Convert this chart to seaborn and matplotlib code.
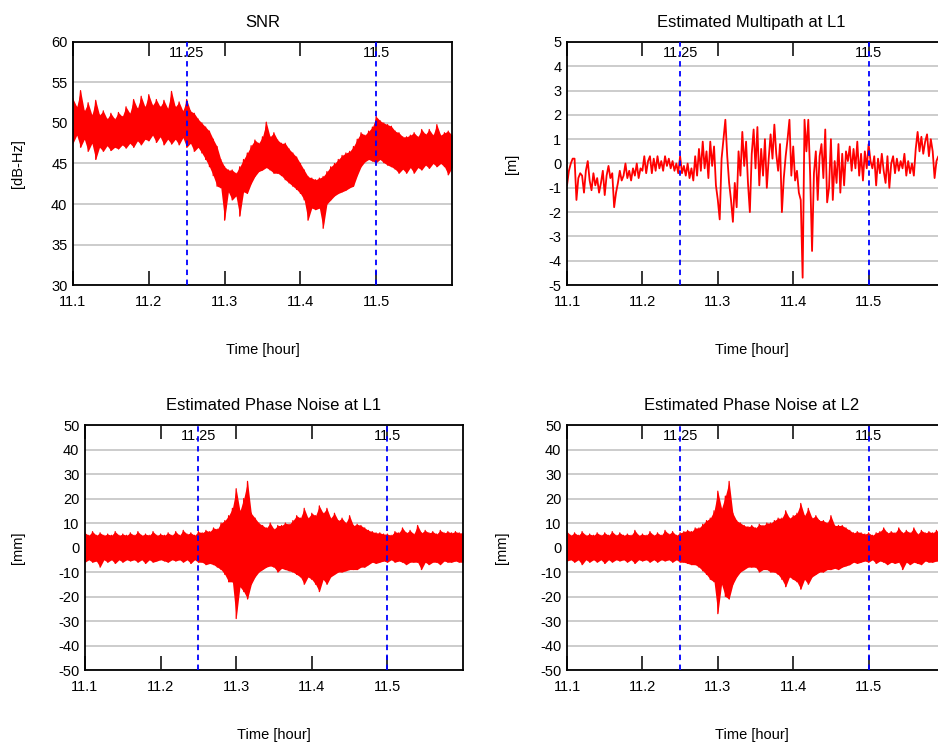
import numpy as np
import matplotlib
matplotlib.use("Agg")
import matplotlib.pyplot as plt
import seaborn as sns

sns.set_theme(style="white")
plt.rcParams["font.family"] = ["Liberation Sans", "DejaVu Sans"]
plt.rcParams["axes.unicode_minus"] = False
plt.rcParams.update({"text.color": "black", "axes.labelcolor": "black",
                     "xtick.color": "black", "ytick.color": "black",
                     "axes.edgecolor": "black"})

# time axis: first sample [hour] and sample spacing
t0 = 11.1
dt_band = 0.005    # envelope samples (SNR, phase noise)
dt_mp = 0.0025     # multipath samples

# SNR [dB-Hz]: upper / lower edge of the noisy band
snr_hi = [53.0, 52.0, 54.0, 51.5, 52.5, 51.0, 52.8, 51.0, 51.5, 50.5,
          51.2, 50.5, 51.3, 50.8, 52.0, 51.2, 52.9, 51.8, 53.3, 52.0,
          53.5, 52.2, 52.9, 52.0, 52.8, 51.8, 53.9, 52.0, 52.6, 51.5,
          52.9, 51.5, 51.2, 50.5, 50.0, 49.5, 49.0, 48.0, 47.1, 45.5,
          44.6, 44.2, 44.2, 43.8, 44.6, 45.5, 46.3, 47.2, 47.9, 47.5,
          48.3, 50.1, 48.3, 48.8, 47.9, 47.5, 47.5, 46.8, 46.3, 45.8,
          45.0, 44.2, 43.4, 43.2, 43.0, 43.2, 43.4, 44.0, 44.6, 45.0,
          45.5, 46.0, 46.3, 46.5, 47.1, 48.0, 48.8, 48.5, 49.0, 49.5,
          50.8, 50.3, 50.0, 49.8, 49.6, 49.0, 48.8, 48.3, 48.3, 48.5,
          48.8, 48.3, 49.2, 48.6, 49.2, 48.5, 49.8, 48.5, 48.8, 49.0,
          48.5]
snr_lo = [47.5, 48.5, 47.0, 48.0, 46.5, 47.5, 45.5, 47.0, 46.5, 47.2,
          46.6, 47.0, 46.8, 47.3, 46.9, 47.5, 47.0, 47.8, 47.3, 48.0,
          47.8, 48.5, 47.6, 48.3, 47.3, 48.0, 47.4, 48.0, 47.3, 48.2,
          47.0, 47.5, 46.5, 47.0, 46.3, 45.5, 44.6, 43.5, 42.2, 42.0,
          38.0, 41.5, 40.5, 41.0, 38.5, 41.5, 41.3, 42.5, 43.4, 44.0,
          44.2, 44.5, 44.2, 43.8, 43.8, 43.5, 43.0, 42.6, 42.2, 41.8,
          41.3, 40.5, 38.0, 39.5, 39.3, 39.5, 37.0, 40.0, 40.5, 41.0,
          41.3, 41.5, 41.7, 42.0, 42.2, 43.5, 44.6, 45.2, 45.5, 45.3,
          45.1, 45.5, 45.1, 44.8, 44.6, 44.3, 43.8, 44.3, 43.8, 44.5,
          43.8, 44.5, 44.2, 44.8, 44.4, 45.0, 44.6, 45.0, 44.6, 43.6,
          44.5]

# Estimated multipath at L1 [m]
mp = [-0.9, -0.3, 0.0, 0.2, 0.2, -1.5, -0.6, -0.4, -0.5, -1.2, -0.3, 0.1,
      -0.7, -1.1, -0.4, -0.9, -0.6, -1.2, -0.8, -0.3, -1.3, -0.5, -0.1, -0.6,
      -0.4, -1.8, -1.2, -0.8, -0.3, -0.7, -0.5, 0.0, -0.6, -0.3, -0.7, -0.2,
      -0.5, 0.0, -0.6, -0.2, -0.3, 0.3, -0.4, 0.1, 0.3, -0.4, 0.2, -0.3,
      0.3, -0.2, 0.1, -0.3, 0.3, -0.1, 0.2, -0.2, 0.1, -0.3, 0.0, -0.4,
      0.3, -0.4, -0.1, -0.5, 0.0, -0.6, -0.2, -0.7, 0.3, -0.5, 0.6, -0.3,
      0.9, -0.2, 0.5, -0.6, 0.9, -0.1, 0.7, -0.9, -1.5, -2.3, 0.2, 1.0,
      1.8, 0.3, -0.8, -1.5, -2.4, -0.8, -1.8, 0.5, -0.5, 1.3, -0.1, 0.9,
      -0.8, -2.0, 0.4, 1.4, -0.2, 1.5, -0.9, 0.6, -0.5, 1.0, -1.0, 0.2,
      1.2, 0.2, 1.6, 0.4, -0.3, 0.8, -2.0, -0.6, 0.3, 1.0, 1.8, -0.5,
      0.7, -0.7, -0.3, -1.2, -1.5, -4.7, 1.8, 0.5, 1.8, -0.5, -3.6, -0.4,
      0.5, -1.5, 0.3, 0.8, -0.6, 1.4, -1.6, -1.0, 1.0, -1.5, 0.1, -0.8,
      0.8, -1.2, 0.4, -0.9, 0.5, 0.1, 0.7, -0.3, 0.6, -0.2, 0.9, -0.5,
      0.4, -0.7, 0.5, -0.2, 0.8, 0.1, -0.2, 0.3, -0.9, 0.2, -0.4, 0.4,
      -0.3, -0.8, 0.3, -1.0, 0.0, 0.3, -0.4, 0.2, -0.3, 0.1, -0.2, 0.4,
      -0.5, 0.1, -0.4, 0.0, -0.5, 0.6, 1.3, 0.5, 1.1, 0.4, 0.9, 1.2,
      0.3, 1.0, 0.5, -0.6, 0.1, 0.3]

# Estimated phase noise at L1 [mm]: upper / lower edge
pn1_hi = [6, 5, 6.5, 5, 6, 5, 5.5, 5, 6.5, 5,
          5.5, 5, 6, 5, 6.5, 5, 5.5, 5, 6.5, 5,
          5.5, 5, 6, 5, 6.5, 5, 7, 5.5, 6, 5,
          6.5, 6, 7, 6.5, 8, 7.5, 10, 11, 13, 16,
          24, 15, 20, 27, 14, 12, 10, 9, 8, 10,
          7.5, 9, 9, 10, 9.5, 11, 13, 12, 16, 12,
          14, 13, 17, 14, 16, 12, 14, 11, 12, 10,
          13, 9, 9.5, 9, 8, 7, 6.5, 6, 6, 5.5,
          5.5, 5, 6.5, 6, 8, 6, 7, 5.5, 9, 6,
          7, 6, 6.5, 5.5, 7, 6, 6.5, 6, 6.5, 6,
          6]
pn1_lo = [-6, -5, -6, -5.5, -8, -5, -6, -5, -6.5, -5,
          -6, -5, -5.5, -5, -6, -5, -6.5, -5, -6, -5.5,
          -5, -5.5, -6, -5, -5.5, -5, -6, -5, -6.5, -5,
          -6, -6, -7, -6.5, -7, -8, -9, -11, -14, -14,
          -29, -16, -18, -21, -15, -12, -10, -9, -8, -7.5,
          -8, -10, -8.5, -9, -9.5, -10, -11, -12, -15, -12,
          -13, -15, -18, -13, -15, -12, -11, -10, -10, -9.5,
          -9, -9, -9, -8, -8, -7, -6, -6.5, -6, -5.5,
          -6, -5, -6, -5.5, -6, -7, -6, -6, -6, -9,
          -6, -7, -6, -6, -7, -5.5, -6, -6, -5.5, -6,
          -6]

# Estimated phase noise at L2 [mm]: upper / lower edge
pn2_hi = [6.5, 5, 6, 5, 6.5, 5, 5.5, 5, 6, 5,
          6, 5, 6.5, 5, 6, 5, 5.5, 5, 7, 5,
          5.5, 5, 6.5, 5, 6, 5, 7, 5.5, 6.5, 5,
          6, 6.5, 7, 6.5, 8, 8, 9.5, 11, 12, 15,
          23, 16, 21, 27, 14, 11, 10, 9, 8.5, 9,
          8, 9.5, 9, 10, 10, 11, 12, 12, 15, 12,
          13, 14, 18, 13, 16, 12, 13, 11, 11, 10,
          13, 9, 9, 9, 8, 7, 6, 6.5, 6, 5.5,
          6, 5, 6, 6.5, 8, 6, 6.5, 6, 8, 6,
          7, 6, 8, 5.5, 7, 6, 6.5, 6, 7, 6]
pn2_lo = [-5.5, -5, -6, -5, -7, -5, -6, -5, -6, -5,
          -6.5, -5, -6, -5, -5.5, -5, -6, -5, -6.5, -5,
          -5.5, -5, -6, -5, -6, -5, -5.5, -5, -6, -5,
          -6, -6, -6.5, -7, -7, -8, -9.5, -11, -13, -14,
          -27, -15, -20, -21, -15, -12, -10, -9, -8, -8,
          -8, -10, -9, -9, -10, -10, -11, -13, -16, -12,
          -13, -14, -17, -13, -15, -12, -11, -10, -10, -9,
          -9, -8.5, -9, -8, -7.5, -7, -6, -6.5, -6, -5.5,
          -6, -5, -6.5, -5.5, -6, -7, -6, -6.5, -6, -9,
          -6, -7, -6, -6.5, -7, -5.5, -6, -6, -5.5, -6]

xticks = [11.1, 11.2, 11.3, 11.4, 11.5]
marks = [11.25, 11.5]
mark_labels = ["11.25", "11.5"]


def draw_band(ax, hi, lo):
    # solid band between the edges, plus a zigzag trace for the ragged edge
    t = t0 + dt_band * np.arange(len(hi))
    ax.fill_between(t, lo, hi, color="red", lw=0)
    x = np.repeat(t, 2)
    y = np.column_stack([hi, lo]).ravel()
    sns.lineplot(x=x, y=y, sort=False, estimator=None, color="red", lw=0.9, ax=ax)


def style_panel(ax, title, ylabel, ylim, ystep, ylab_x, cx=0.5):
    ax.set_xlim(11.1, 11.6)
    ax.set_ylim(*ylim)
    ax.set_xticks(xticks)
    ax.set_xticklabels([f"{v:g}" for v in xticks])
    ax.set_yticks(np.arange(ylim[0], ylim[1] + ystep / 2, ystep))
    ax.yaxis.grid(True, color="#c8c8c8", lw=1.3)
    ax.xaxis.grid(False)
    ax.set_axisbelow(True)
    ax.tick_params(axis="x", direction="in", length=10, width=1.1,
                   top=True, bottom=True, labelsize=10.5, pad=7)
    ax.tick_params(axis="y", length=0, labelsize=10.5, pad=4)
    for s in ax.spines.values():
        s.set_color("black")
        s.set_linewidth(1.3)
    for v, lab in zip(marks, mark_labels):
        ax.axvline(v, color="#0000ff", ls=(0, (3, 2.5)), lw=1.3, zorder=5)
        ax.text(v, 0.955, lab, transform=ax.get_xaxis_transform(),
                ha="center", va="center", fontsize=10.5, zorder=4)
    ax.set_title(title, fontsize=12, x=cx, pad=11)
    ax.set_xlabel("Time [hour]", fontsize=10.5)
    ax.xaxis.set_label_coords(cx, -0.267)
    ax.xaxis.label.set_va("center")
    ax.set_ylabel(ylabel, fontsize=10.5)
    ax.yaxis.set_label_coords(ylab_x, 0.5)
    ax.yaxis.label.set_va("center")


fig = plt.figure(figsize=(9.38, 7.42), dpi=100)
ax1 = fig.add_axes([0.0778, 0.6159, 0.4041, 0.3275])
ax2 = fig.add_axes([0.6045, 0.6159, 0.4019, 0.3275])
ax3 = fig.add_axes([0.0906, 0.0970, 0.4030, 0.3302])
ax4 = fig.add_axes([0.6045, 0.0970, 0.4019, 0.3302])

draw_band(ax1, snr_hi, snr_lo)

t_mp = t0 + dt_mp * np.arange(len(mp))
sns.lineplot(x=t_mp, y=mp, sort=False, estimator=None, color="red", lw=1.3, ax=ax2)

draw_band(ax3, pn1_hi, pn1_lo)
draw_band(ax4, pn2_hi, pn2_lo)

style_panel(ax1, "SNR", "[dB-Hz]", (30, 60), 5, -0.145)
style_panel(ax2, "Estimated Multipath at L1", "[m]", (-5, 5), 1, -0.146, cx=0.49)
style_panel(ax3, "Estimated Phase Noise at L1", "[mm]", (-50, 50), 10, -0.177)
style_panel(ax4, "Estimated Phase Noise at L2", "[mm]", (-50, 50), 10, -0.172, cx=0.49)

fig.savefig("out.png", dpi=100)
